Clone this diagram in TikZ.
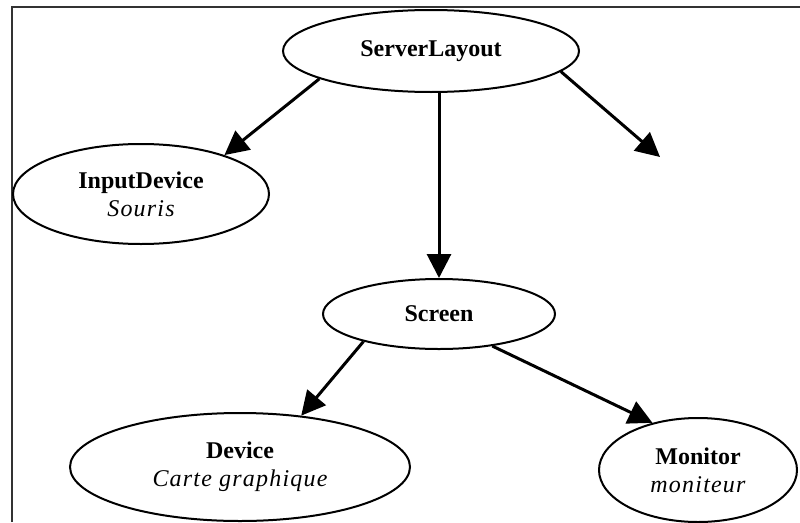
\documentclass[tikz,border=0pt]{standalone}
\usepackage{fontspec}
\setmainfont{Liberation Serif}
\usepackage{tikz}
\usetikzlibrary{shapes,arrows.meta,positioning}

\newcommand{\cfgval}[1]{{\mdseries\itshape\addfontfeature{LetterSpace=5}#1}}

\begin{document}
\begin{tikzpicture}[
    x=1pt, y=-1pt,
    section/.style={ellipse, draw, line width=2pt, inner sep=0pt, align=center, font=\fontsize{24}{28}\selectfont\bfseries},
    link/.style={line width=3pt, -{Triangle[length=24pt, width=24pt]}},
    frameline/.style={draw=black!80, line width=1.2pt},
]
\useasboundingbox (0,0) rectangle (800,522);

% frame of the screenshot
\draw[frameline] (12,522) -- (12,7) -- (800,7);

% root section
\node[section, minimum width=296pt, minimum height=82pt] (srv) at (431,51) {ServerLayout};

% first level
\node[section, minimum width=256pt, minimum height=100pt, below=50pt of srv, xshift=-290pt] (inp) {InputDevice\\\cfgval{Souris}};
\node[section, minimum width=232pt, minimum height=70pt, below=185pt of srv, xshift=8pt] (scr) {Screen};
\coordinate (more) at (660,157);

% second level
\node[section, minimum width=340pt, minimum height=108pt, below=62pt of scr, xshift=-199pt] (dev) {Device\\\cfgval{Carte graphique}};
\node[section, minimum width=198pt, minimum height=104pt, below=67pt of scr, xshift=259pt] (mon) {Monitor\\\cfgval{moniteur}};

% links
\draw[link] (srv.194) -- (inp.25);
\draw[link] (scr.north |- srv.south) -- (scr.north);
\draw[link] (srv.-9) -- (more);
\draw[link] (scr.200) -- (dev.40);
\draw[link] (scr.-31) -- (mon.134);

\end{tikzpicture}
\end{document}
